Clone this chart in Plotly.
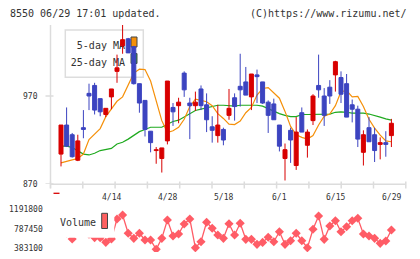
import plotly.graph_objects as go

# ---------------- data ----------------
dates = ["4/1", "4/4", "4/5", "4/6", "4/7", "4/8", "4/11", "4/12", "4/13", "4/14",
         "4/15", "4/18", "4/19", "4/20", "4/21", "4/22", "4/25", "4/26", "4/27", "4/28",
         "5/2", "5/6", "5/9", "5/10", "5/11", "5/12", "5/13", "5/16", "5/17", "5/18",
         "5/19", "5/20", "5/23", "5/24", "5/25", "5/26", "5/27", "5/30", "5/31", "6/1",
         "6/2", "6/3", "6/6", "6/7", "6/8", "6/9", "6/10", "6/13", "6/14", "6/15",
         "6/16", "6/17", "6/20", "6/21", "6/22", "6/23", "6/24", "6/27", "6/28", "6/29"]

opens = [904, 937, 926, 897, 934, 973, 982, 967, 949, 969, 998, 1027, 1035, 1026, 984,
         965, 930, 908, 899, 919, 957, 959, 996, 962, 959, 978, 960, 935, 925, 932,
         948, 968, 981, 986, 969, 994, 986, 963, 961, 937, 899, 931, 891, 951, 914,
         942, 982, 970, 980, 994, 991, 984, 960, 955, 906, 934, 926, 915, 917, 925]
highs = [937, 957, 928, 926, 954, 984, 985, 967, 956, 978, 1017, 1052, 1036, 1027, 984,
         965, 930, 912, 911, 987, 962, 968, 998, 968, 975, 982, 973, 947, 960, 934,
         978, 973, 1018, 1003, 995, 1000, 986, 965, 967, 937, 916, 934, 946, 957, 932,
         972, 1017, 979, 988, 1010, 998, 995, 966, 959, 931, 946, 934, 923, 930, 944]
lows = [890, 912, 900, 896, 922, 954, 949, 947, 946, 955, 985, 1018, 1019, 983, 951,
        924, 906, 893, 883, 915, 936, 939, 969, 921, 953, 954, 929, 917, 917, 914,
        943, 942, 958, 971, 954, 962, 961, 928, 943, 907, 874, 894, 886, 929, 900,
        937, 968, 936, 961, 975, 962, 946, 940, 912, 891, 918, 895, 898, 901, 912]
closes = [937, 913, 901, 919, 932, 970, 954, 952, 956, 978, 1002, 1034, 1019, 984, 962,
          932, 917, 909, 911, 987, 952, 963, 977, 959, 963, 959, 943, 931, 937, 920,
          956, 958, 977, 971, 995, 992, 962, 948, 943, 913, 909, 920, 929, 929, 929,
          970, 977, 948, 970, 1009, 972, 946, 955, 921, 926, 918, 908, 917, 915, 939]

ma5 = [894, 896, 897.5, 899, 904, 920.5, 927, 933, 946.5, 956, 964, 969, 982.5, 996, 1000.5,
       1000, 987, 963.5, 942, 928.5, 930.5, 934.5, 943.5, 958, 966.5, 965, 963.5, 959, 950, 944.5,
       938, 937.5, 941.5, 951, 957, 971, 978.5, 979.5, 974, 967.5, 952.5, 935.5, 926, 923, 921,
       925, 937, 947, 949.5, 959, 975, 976, 969, 969.5, 958, 943.5, 933.5, 925.5, 919, 918]
ma25 = [913, 913, 911.5, 908, 904, 903, 905, 908, 909.5, 910.5, 915.5, 917.5, 921, 925.5, 929.5,
        932, 934.5, 934.5, 934.5, 938, 941, 942.5, 946.5, 950.5, 953.5, 955, 956.5, 958.5, 959.5, 959.5,
        959, 958.5, 959.5, 959.5, 959.5, 959.5, 958.5, 955.5, 953, 950, 948, 946.5, 946.5, 949, 949,
        949, 949, 949, 949.5, 951.5, 952, 951.5, 950.5, 950.5, 950.5, 949.5, 948, 946, 944, 942.5]

volume = [800000, 700000, 583000, 720000, 850000, 680000, 612000, 610000, 516000, 583000,
          992000, 1073000, 700000, 597000, 700000, 563000, 563000, 373000, 597000, 971000,
          644000, 685000, 890000, 992000, 405000, 528000, 924000, 802000, 665000, 597000,
          895000, 665000, 904000, 577000, 577000, 475000, 515000, 618000, 528000, 732000,
          475000, 548000, 700000, 548000, 405000, 781000, 1053000, 577000, 849000, 957000,
          732000, 834000, 957000, 1006000, 685000, 644000, 597000, 495000, 542000, 767000]

tick_dates = ["4/14", "4/28", "5/18", "6/1", "6/15", "6/29"]
price_ticks = [970, 870]
volume_ticks = [1191800, 787450, 383100]
legend_names = ["5-day MA", "25-day MA"]

# ---------------- styling / layout helpers ----------------
W, H = 420, 259
FONT = "DejaVu Sans Mono"
RED = "#d80000"
BLUE = "#3c44c0"
ORANGE = "#f5900a"
GREEN = "#1faa1f"
VOLC = "#ff5c66"
AXC = "#dcdcdc"
TXT = "#333333"

X_L, X_R = 50.0, 405.3          # plot area in pixels
CANDLE0, STEP = 61.0, 5.6       # pixel position of first candle, spacing
P_BOT_PX, P_TOP_PX = 184.0, 25.0
P_LOW, PX_PER_YEN = 870.0, 0.88
V_TOP_PX, V_BOT_PX = 204.0, 252.0
V_REF, V_REF_PX, V_PER_PX = 787450.0, 229.0, 20370.0


def xp(px):
    return px / W


def yp(py):
    return 1 - py / H


def idx_of_px(px):
    return (px - CANDLE0) / STEP


def price_of_py(py):
    return P_LOW + (P_BOT_PX - py) / PX_PER_YEN


def vol_of_py(py):
    return V_REF + (V_REF_PX - py) * V_PER_PX


xs = list(range(len(dates)))
half = 2.0 / STEP  # body half-width (index units)

fig = go.Figure()

# moving averages (drawn under candles)
fig.add_trace(go.Scatter(x=xs, y=ma25, mode="lines", line=dict(color=GREEN, width=1.2),
                         hoverinfo="skip", showlegend=False))
fig.add_trace(go.Scatter(x=xs, y=ma5, mode="lines", line=dict(color=ORANGE, width=1.2),
                         hoverinfo="skip", showlegend=False))

# legend text (under candles)
lx = idx_of_px(125)
fig.add_trace(go.Scatter(x=[lx, lx], y=[price_of_py(46.5), price_of_py(63.0)], mode="text",
                         text=legend_names, textposition="middle left",
                         textfont=dict(family=FONT, size=10, color=TXT),
                         hoverinfo="skip", showlegend=False))

# candles built from OHLC
for up, color in ((True, RED), (False, BLUE)):
    wx, wy, bx, by = [], [], [], []
    for i, (o, h, l, c) in enumerate(zip(opens, highs, lows, closes)):
        if (c >= o) != up:
            continue
        wx += [i, i, None]
        wy += [l, h, None]
        bx += [i - half, i + half, i + half, i - half, i - half, None]
        by += [o, o, c, c, o, None]
    fig.add_trace(go.Scatter(x=wx, y=wy, mode="lines", line=dict(color=color, width=1),
                             hoverinfo="skip", showlegend=False))
    fig.add_trace(go.Scatter(x=bx, y=by, mode="lines", fill="toself", fillcolor=color,
                             line=dict(color=color, width=1), hoverinfo="skip", showlegend=False))

# volume
fig.add_trace(go.Scatter(x=xs, y=volume, mode="lines+markers", xaxis="x2", yaxis="y2",
                         line=dict(color=VOLC, width=1.3),
                         marker=dict(symbol="diamond", size=7, color=VOLC),
                         hoverinfo="skip", showlegend=False))

xrange = [idx_of_px(X_L), idx_of_px(X_R)]
ax_off = dict(showgrid=False, zeroline=False, showline=False, showticklabels=False, ticks="")
fig.update_layout(
    width=W, height=H, margin=dict(l=0, r=0, t=0, b=0),
    paper_bgcolor="white", plot_bgcolor="white",
    xaxis=dict(domain=[xp(X_L), xp(X_R)], range=xrange, anchor="y", **ax_off),
    yaxis=dict(domain=[yp(P_BOT_PX), yp(P_TOP_PX)],
               range=[P_LOW, price_of_py(P_TOP_PX)], anchor="x", **ax_off),
    xaxis2=dict(domain=[xp(X_L), xp(X_R)], range=xrange, anchor="y2", **ax_off),
    yaxis2=dict(domain=[yp(V_BOT_PX), yp(V_TOP_PX)],
                range=[vol_of_py(V_BOT_PX), vol_of_py(V_TOP_PX)], anchor="x2", **ax_off),
)

shapes = []
# price legend box and swatches
shapes.append(dict(type="rect", xref="paper", yref="paper", layer="below",
                   x0=xp(65.3), x1=xp(143.3), y0=yp(77.3), y1=yp(30.0),
                   line=dict(color="#dddddd", width=1.5), fillcolor="white"))
shapes.append(dict(type="rect", xref="paper", yref="paper", layer="below",
                   x0=xp(131.0), x1=xp(137.0), y0=yp(47.0), y1=yp(37.0),
                   line=dict(color="#444444", width=1), fillcolor=ORANGE))
shapes.append(dict(type="rect", xref="paper", yref="paper", layer="below",
                   x0=xp(131.0), x1=xp(137.0), y0=yp(63.5), y1=yp(53.5),
                   line=dict(color="#444444", width=1), fillcolor=GREEN))
# axes
shapes.append(dict(type="line", xref="paper", yref="paper", layer="below",
                   x0=xp(50.5), x1=xp(50.5), y0=yp(25.0), y1=yp(188.3),
                   line=dict(color=AXC, width=1.5)))
shapes.append(dict(type="line", xref="paper", yref="paper", layer="below",
                   x0=xp(50.0), x1=xp(405.5), y0=yp(184.2), y1=yp(184.2),
                   line=dict(color=AXC, width=1.5)))
n_ticks = 11
for k in range(n_ticks + 1):
    tx = X_L + 0.5 + k * (X_R - X_L) / n_ticks
    shapes.append(dict(type="line", xref="paper", yref="paper", layer="below",
                       x0=xp(tx), x1=xp(tx), y0=yp(181.5), y1=yp(188.5),
                       line=dict(color=AXC, width=1.5)))
for v in price_ticks:
    shapes.append(dict(type="line", xref="paper", yref="y", layer="below",
                       x0=xp(45.5), x1=xp(53.5), y0=v, y1=v,
                       line=dict(color=AXC, width=1.5)))
# small red mark under the axis
shapes.append(dict(type="line", xref="paper", yref="paper", layer="above",
                   x0=xp(53.5), x1=xp(59.5), y0=yp(193.3), y1=yp(193.3),
                   line=dict(color=RED, width=1.3)))
# volume legend
shapes.append(dict(type="rect", xref="paper", yref="paper", layer="above",
                   x0=xp(54.0), x1=xp(114.3), y0=yp(237.8), y1=yp(204.0),
                   line=dict(width=0), fillcolor="white"))
shapes.append(dict(type="rect", xref="paper", yref="paper", layer="above",
                   x0=xp(101.7), x1=xp(107.5), y0=yp(228.5), y1=yp(213.3),
                   line=dict(color="#444444", width=1), fillcolor="#ff6060"))

ann = []
ann.append(dict(x=xp(8), y=yp(13), xref="paper", yref="paper", text="8550 06/29 17:01 updated.",
                showarrow=False, xanchor="left", yanchor="middle",
                font=dict(family=FONT, size=10, color=TXT)))
ann.append(dict(x=xp(409), y=yp(13), xref="paper", yref="paper", text="(C)https://www.rizumu.net/",
                showarrow=False, xanchor="right", yanchor="middle",
                font=dict(family=FONT, size=10, color=TXT)))
for d in tick_dates:
    ann.append(dict(x=dates.index(d), y=yp(197.3), xref="x", yref="paper", text=d,
                    showarrow=False, xanchor="center", yanchor="middle",
                    font=dict(family=FONT, size=8, color=TXT)))
for v in price_ticks:
    ann.append(dict(x=xp(40), y=v, xref="paper", yref="y", text=str(v),
                    showarrow=False, xanchor="right", yanchor="middle",
                    font=dict(family=FONT, size=8, color=TXT)))
for v in volume_ticks:
    ann.append(dict(x=xp(45), y=v, xref="paper", yref="y2", text=str(v),
                    showarrow=False, xanchor="right", yanchor="middle",
                    font=dict(family=FONT, size=8, color=TXT)))
ann.append(dict(x=xp(58), y=yp(222.3), xref="paper", yref="paper", text="Volume",
                showarrow=False, xanchor="left", yanchor="middle",
                font=dict(family=FONT, size=10, color=TXT)))

fig.update_layout(shapes=shapes, annotations=ann)
fig.write_html("out.html")
